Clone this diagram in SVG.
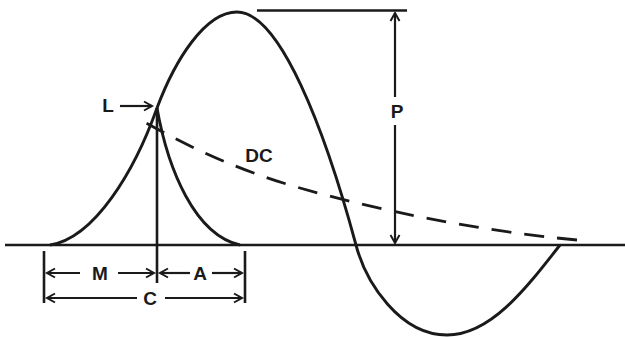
<svg xmlns="http://www.w3.org/2000/svg" width="625" height="337" viewBox="0 0 625 337">
<style>
.ln{fill:none;stroke:#1a1a1a;stroke-width:2.6;stroke-linecap:butt}
.cv{fill:none;stroke:#1a1a1a;stroke-width:2.9}
.ar{fill:none;stroke:#1a1a1a;stroke-width:2.2}
.dash{fill:none;stroke:#1a1a1a;stroke-width:2.8;stroke-dasharray:20 13}
.t{font-family:"Liberation Sans",Arial,sans-serif;font-weight:bold;font-size:19px;fill:#1a1a1a;text-anchor:middle}
</style>
<defs>
<marker id="ah" markerUnits="userSpaceOnUse" markerWidth="12" markerHeight="12" refX="9" refY="5" orient="auto" viewBox="0 0 12 10">
<path d="M1,0.5 L9,5 L1,9.5" fill="none" stroke="#1a1a1a" stroke-width="2"/>
</marker>
</defs>
<g id="axis">
<line class="ln" x1="5" y1="245" x2="625" y2="245" stroke-width="3"/>
<line class="ln" x1="257" y1="10.5" x2="407" y2="10.5"/>
</g>
<g id="curves">
<path id="wave" class="cv" d="M50,245 C95,238 135,170 157,108 C175,60 205,12 237,12 C280,12 325,130 356,245 C366,283 400,335 447,335 C490,335 525,290 560,245"/>
<path id="decay" class="cv" d="M157,108 C168,170 195,235 240,245"/>
<path id="dc" class="dash" d="M577,240 C470,230 370,208 300,188 S180,142 137,118"/>
<line id="vert" class="ln" x1="157" y1="108" x2="157" y2="283"/>
</g>
<g id="connectors">
<line class="ar" x1="395" y1="97" x2="395" y2="13" marker-end="url(#ah)"/>
<line class="ar" x1="395" y1="125" x2="395" y2="243" marker-end="url(#ah)"/>
<line class="ar" x1="120" y1="106" x2="152" y2="106" marker-end="url(#ah)"/>
<line class="ln" x1="44" y1="251" x2="44" y2="303"/>
<line class="ln" x1="245" y1="251" x2="245" y2="303"/>
<line class="ar" x1="80" y1="273" x2="47" y2="273" marker-end="url(#ah)"/>
<line class="ar" x1="118" y1="273" x2="154" y2="273" marker-end="url(#ah)"/>
<line class="ar" x1="190" y1="273" x2="160" y2="273" marker-end="url(#ah)"/>
<line class="ar" x1="212" y1="273" x2="242" y2="273" marker-end="url(#ah)"/>
<line class="ar" x1="137" y1="298" x2="47" y2="298" marker-end="url(#ah)"/>
<line class="ar" x1="165" y1="298" x2="242" y2="298" marker-end="url(#ah)"/>
</g>
<g id="labels">
<text class="t" x="108" y="112">L</text>
<text class="t" x="259" y="162" font-size="20">DC</text>
<text class="t" x="397" y="118">P</text>
<text class="t" x="100" y="280">M</text>
<text class="t" x="200" y="280">A</text>
<text class="t" x="150" y="305">C</text>
</g>
</svg>
